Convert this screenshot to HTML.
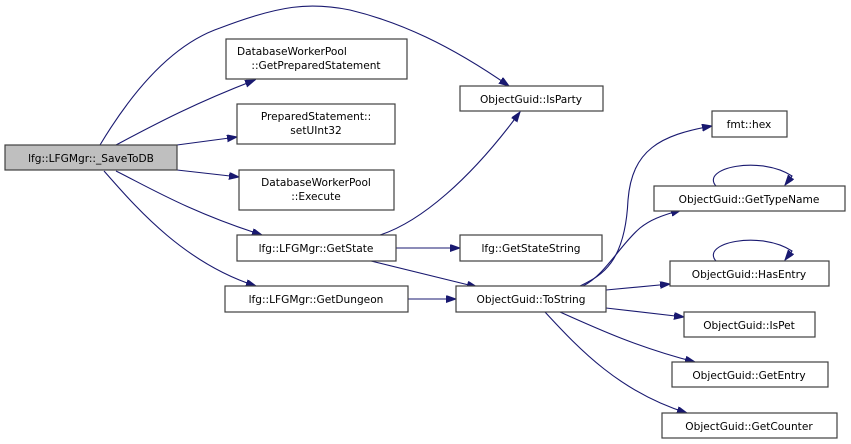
<!DOCTYPE html>
<html><head><meta charset="utf-8"><style>
html,body{margin:0;padding:0;background:#fff;}
svg{display:block;}
text{font-family:"DejaVu Sans","Liberation Sans",sans-serif;font-size:10.6px;fill:#000;}
rect{stroke:#404040;stroke-width:1.2;fill:#fff;}
path.e{fill:none;stroke:#191970;stroke-width:1.1;}
</style></head><body>
<svg width="851" height="444" viewBox="0 0 851 444" xmlns="http://www.w3.org/2000/svg">
<defs><marker id="a" markerWidth="11" markerHeight="8" refX="10" refY="3.5" orient="auto" markerUnits="userSpaceOnUse"><path d="M0,0 L10,3.5 L0,7 z" fill="#191970" stroke="#191970"/></marker></defs>
<g>
<path class="e" marker-end="url(#a)" d="M100,145 C130,95 170,45 220,28 C280,5 310,2 350,10 C400,22 450,45 509,86"/>
<path class="e" marker-end="url(#a)" d="M116,145 C150,127 190,105 255,80"/>
<path class="e" marker-end="url(#a)" d="M177,145 L237,137"/>
<path class="e" marker-end="url(#a)" d="M177,170 L239,177"/>
<path class="e" marker-end="url(#a)" d="M116,171 C150,188 190,212 262,235"/>
<path class="e" marker-end="url(#a)" d="M104,171 C130,200 180,262 256,286"/>
<path class="e" marker-end="url(#a)" d="M380,235 C420,222 470,180 520,112"/>
<path class="e" marker-end="url(#a)" d="M396,248 L460,248"/>
<path class="e" marker-end="url(#a)" d="M371,261 L477,287"/>
<path class="e" marker-end="url(#a)" d="M408,299 L456,299"/>
<path class="e" marker-end="url(#a)" d="M580,286 C600,276 625,265 628,200 C632,150 660,135 712,126"/>
<path class="e" marker-end="url(#a)" d="M583,286 C605,275 620,245 640,228 C650,220 660,216 681,210"/>
<path class="e" marker-end="url(#a)" d="M606,290 L670,284"/>
<path class="e" marker-end="url(#a)" d="M606,308 L684,317"/>
<path class="e" marker-end="url(#a)" d="M560,312 C600,330 640,348 695,362"/>
<path class="e" marker-end="url(#a)" d="M545,312 C580,350 620,392 687,413"/>
<path class="e" marker-end="url(#a)" d="M716,186 C700,168 760,155 792,176 L785,185"/>
<path class="e" marker-end="url(#a)" d="M716,261 C700,243 760,230 792,251 L785,260"/>
</g>
<rect x="5" y="145" width="172" height="25" style="fill:#bfbfbf"/>
<text x="91" y="162" text-anchor="middle">lfg::LFGMgr::_SaveToDB</text>
<rect x="226" y="39" width="181" height="40"/>
<text x="237" y="55">DatabaseWorkerPool</text>
<text x="316" y="69" text-anchor="middle">::GetPreparedStatement</text>
<rect x="237" y="104" width="158" height="40"/>
<text x="316" y="120" text-anchor="middle">PreparedStatement::</text>
<text x="316" y="134" text-anchor="middle">setUInt32</text>
<rect x="239" y="170" width="155" height="40"/>
<text x="316" y="186" text-anchor="middle">DatabaseWorkerPool</text>
<text x="316" y="200" text-anchor="middle">::Execute</text>
<rect x="237" y="235" width="159" height="26"/>
<text x="316" y="252" text-anchor="middle">lfg::LFGMgr::GetState</text>
<rect x="225" y="286" width="183" height="26"/>
<text x="316" y="303" text-anchor="middle">lfg::LFGMgr::GetDungeon</text>
<rect x="460" y="86" width="143" height="25"/>
<text x="531" y="103" text-anchor="middle">ObjectGuid::IsParty</text>
<rect x="712" y="111" width="75" height="26"/>
<text x="749" y="128" text-anchor="middle">fmt::hex</text>
<rect x="654" y="186" width="191" height="25"/>
<text x="749" y="203" text-anchor="middle">ObjectGuid::GetTypeName</text>
<rect x="460" y="235" width="142" height="26"/>
<text x="531" y="252" text-anchor="middle">lfg::GetStateString</text>
<rect x="670" y="261" width="159" height="25"/>
<text x="749" y="278" text-anchor="middle">ObjectGuid::HasEntry</text>
<rect x="456" y="286" width="150" height="26"/>
<text x="531" y="303" text-anchor="middle">ObjectGuid::ToString</text>
<rect x="684" y="312" width="131" height="25"/>
<text x="749" y="329" text-anchor="middle">ObjectGuid::IsPet</text>
<rect x="672" y="362" width="156" height="25"/>
<text x="749" y="379" text-anchor="middle">ObjectGuid::GetEntry</text>
<rect x="662" y="413" width="175" height="25"/>
<text x="749" y="430" text-anchor="middle">ObjectGuid::GetCounter</text>
</svg>
</body></html>
